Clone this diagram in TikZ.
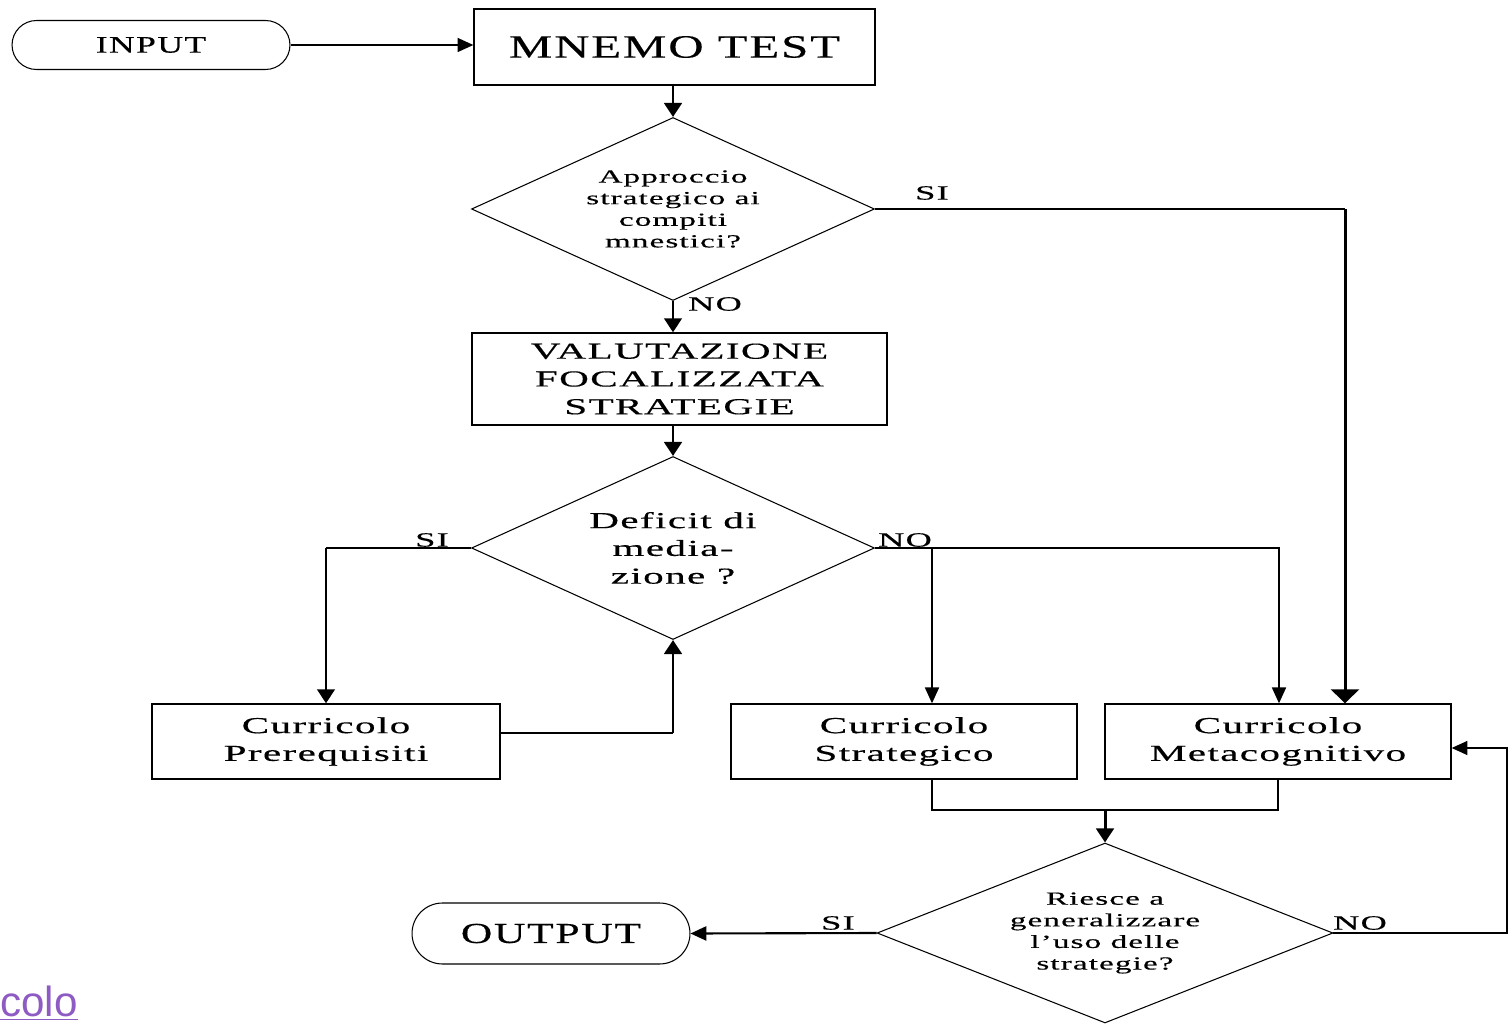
\documentclass[tikz,border=0pt]{standalone}
\usepackage{fontspec}
\usetikzlibrary{shapes.geometric,shapes.misc,arrows.meta,calc}
\setmainfont{Liberation Serif}[FakeStretch=1.5,LetterSpace=6,FakeBold=0.4]
\newfontfamily\widefont{Liberation Serif}[FakeStretch=1.8,LetterSpace=6,FakeBold=0.4]
\newfontfamily\linkfont{Liberation Sans}
\definecolor{linkpurple}{HTML}{8E5BC4}
\begin{document}
\begin{tikzpicture}[x=0.02cm,y=-0.02cm,
  every node/.style={inner sep=0pt,align=center},
  box/.style={draw,line width=0.8pt,rectangle},
  term/.style={draw,line width=0.6pt,rounded rectangle},
  test/.style={draw,line width=0.6pt,diamond},
  thin/.style={line width=0.8pt},
  bold/.style={line width=1.7pt},
  arr/.style={-{Triangle[length=9pt,width=8pt]}},
  barr/.style={-{Triangle[length=8pt,width=10pt]}},
  bigarr/.style={-{Triangle[length=8pt,width=16pt]}},
  lbl/.style={font=\widefont\fontsize{11.5}{12}\selectfont},
  big/.style={font=\widefont\fontsize{13}{15.8}\selectfont},
  small/.style={font=\widefont\fontsize{10.5}{12.3}\selectfont}]
\useasboundingbox (0,0) rectangle (1509,1024);

% terminals and process boxes
\node[term,minimum width=5.56cm,minimum height=0.98cm,font=\fontsize{13.5}{14}\selectfont] (in) at (151,45) {INPUT};
\node[box,minimum width=8.02cm,minimum height=1.52cm,font=\fontsize{18.5}{20}\selectfont] (mnemo) at (674.5,47) {MNEMO TEST};
\node[test,aspect=2.2,minimum width=8.06cm,minimum height=3.66cm,small] (d1) at (673,209) {Approccio\\strategico ai\\compiti\\mnestici?};
\node[box,minimum width=8.3cm,minimum height=1.84cm,big] (val) at (679.5,379) {VALUTAZIONE\\FOCALIZZATA\\STRATEGIE};
\node[test,aspect=2.2,minimum width=8.06cm,minimum height=3.66cm,big] (d2) at (673,548) {Deficit di\\media-\\zione ?};
\node[box,minimum width=6.96cm,minimum height=1.5cm,big] (pre) at (326,741.5) {Curricolo\\Prerequisiti};
\node[box,minimum width=6.92cm,minimum height=1.5cm,big] (str) at (904,741.5) {Curricolo\\Strategico};
\node[box,minimum width=6.92cm,minimum height=1.5cm,big] (met) at (1278,741.5) {Curricolo\\Metacognitivo};
\node[test,aspect=2.53,minimum width=9.12cm,minimum height=3.6cm,small] (d3) at (1105,933) {Riesce a\\generalizzare\\l’uso delle\\strategie?};
\node[term,minimum width=5.56cm,minimum height=1.22cm,font=\fontsize{16.5}{17}\selectfont] (out) at (551,933.5) {OUTPUT};

% branch labels
\node[lbl] (si1) at (932,193) {SI};
\node[lbl] (no1) at (715,304) {NO};
\node[lbl] (si2) at (432,540) {SI};
\node[lbl] (no2) at (905,540) {NO};
\node[lbl] (si3) at (838,923) {SI};
\node[lbl] (no3) at (1360,923) {NO};

% routing points
\coordinate (siturn) at (1345,209);
\coordinate (nob) at (932,548);
\coordinate (jn) at (1105,810);
\coordinate (nor) at (1507,933);

% connectors
\draw[thin,arr] (in.east) -- (in.east -| mnemo.west);
\draw[bold,barr] (d1.north |- mnemo.south) -- (d1.north);
\draw[line width=1.2pt] (d1.east) -- (siturn);
\draw[bold,bigarr] (siturn) -- (siturn |- met.north);
\draw[bold,barr] (d1.south) -- (d1.south |- val.north);
\draw[bold,barr] (d2.north |- val.south) -- (d2.north);
\draw[thin] (d2.west) -- (d2.west -| pre.north);
\draw[bold,barr] (d2.west -| pre.north) -- (pre.north);
\draw[thin,arr] (d2.east) -| ([xshift=0.02cm]met.north);
\draw[thin,arr] (nob) -- (nob |- str.north);
\draw[thin] ($(pre.east)+(0,-8.5)$) -- (d2.south |- {$(pre.east)+(0,-8.5)$});
\draw[bold,barr] (d2.south |- {$(pre.east)+(0,-8.5)$}) -- (d2.south);
\draw[thin] (nob |- str.south) -- (nob |- jn) -- (met.south |- jn) -- (met.south);
\draw[bold,barr] (jn) -- (d3.north);
\draw[line width=1.2pt,arr] (d3.west) -- (out.east);
\draw[thin,arr] (d3.east) -- (nor) |- ([yshift=-0.13cm]met.east);

% hyperlink fragment
\node[anchor=base west,font=\linkfont\fontsize{24}{26}\selectfont,text=linkpurple] (link) at (0,1016) {\underline{colo}};
\end{tikzpicture}
\end{document}
